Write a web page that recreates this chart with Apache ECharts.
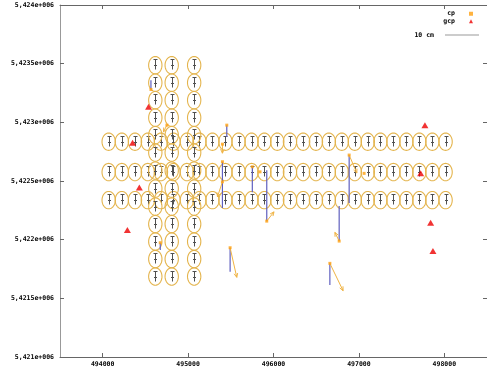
<!DOCTYPE html>
<html><head><meta charset="utf-8">
<script src="https://cdn.jsdelivr.net/npm/echarts@6/dist/echarts.min.js"></script>
<style>html,body{margin:0;padding:0;background:#fff}#c{width:487px;height:374px}</style>
</head><body><div id="c"></div>
<script>
// ---- axis ticks ----
const xTicks = [494000, 495000, 496000, 497000, 498000];
const xTickLabels = ['494000', '495000', '496000', '497000', '498000'];
const yTicks = [5421000, 5421500, 5422000, 5422500, 5423000, 5423500, 5424000];
const yTickLabels = ['5,421e+006', '5,4215e+006', '5,422e+006', '5,4225e+006', '5,423e+006', '5,4235e+006', '5,424e+006'];

// ---- error ellipse centres: three E-W profiles and three N-S profiles ----
const rowX = [494070, 494224, 494378, 494528, 494682, 494829, 494986, 495133, 495285, 495437, 495591, 495743, 495893,
  496044, 496193, 496347, 496497, 496648, 496800, 496952, 497104, 497252, 497404, 497556, 497708, 497860, 498015];
const rowY = [5422835, 5422576, 5422337];
const colX = [494616, 494808, 495071];
const colY = [5423487, 5423338, 5423189, 5423040, 5422891, 5422742, 5422589, 5422435, 5422282, 5422133, 5421984, 5421835, 5421686];

// ---- cp: position, vertical displacement (blue), horizontal displacement (arrow) ----
const cpX  = [494565, 494752, 495453, 495402, 495402, 495402, 495752, 495842, 495921, 496886, 497061, 496769, 494674, 495492, 496660];
const cpY  = [5423280, 5422976, 5422976, 5422814, 5422664, 5422493, 5422621, 5422578, 5422158, 5422721, 5422565, 5421988, 5421974, 5421931, 5421798];
const cpDz = [79, 0, -100, 0, -394, 0, -216, 0, 434, -409, 0, 298, -62, -204, -185];
const cpAx = [0, -40, 0, 0, 0, -58, 0, 0, 85, 90, 0, -50, 0, 78, 155];
const cpAy = [0, -57, 0, -77, 0, -128, 0, 0, 79, -153, 0, 74, 0, -252, -233];

// ---- gcp ----
const gcpX = [494537, 494350, 494429, 494289, 497773, 497723, 497840, 497867];
const gcpY = [5423132, 5422825, 5422445, 5422082, 5422976, 5422565, 5422144, 5421903];

const ELL_RX = 78, ELL_RY = 74;

const ellData = [];
rowY.forEach(y => rowX.forEach(x => ellData.push([x, y])));
colX.forEach(x => colY.forEach(y => ellData.push([x, y])));
const cpData = cpX.map((x, i) => [x, cpY[i], cpDz[i], cpAx[i], cpAy[i]]);
const gcpData = gcpX.map((x, i) => [x, gcpY[i]]);

const FONT = {fontFamily: 'DejaVu Sans Mono', fontSize: 6.5, fontWeight: 'bold', color: '#000'};

function renderEllipse(params, api) {
  const c = api.coord([api.value(0), api.value(1)]);
  const s = api.size([ELL_RX, ELL_RY]);
  const pts = [];
  for (let i = 0; i < 48; i++) {
    const t = i / 48 * 2 * Math.PI;
    pts.push([c[0] + s[0] * Math.cos(t), c[1] + s[1] * Math.sin(t)]);
  }
  const x = Math.round(c[0]) + 0.5, y = Math.round(c[1]) + 0.5;
  const st = {stroke: '#505050', lineWidth: 1};
  return {type: 'group', children: [
    {type: 'polygon', shape: {points: pts}, style: {fill: 'none', stroke: '#e4b44c', lineWidth: 1.1}},
    {type: 'line', shape: {x1: x, y1: y - 6, x2: x, y2: y + 4}, style: st},
    {type: 'line', shape: {x1: x - 2, y1: y - 6, x2: x + 2, y2: y - 6}, style: st},
    {type: 'line', shape: {x1: x - 1.5, y1: y, x2: x + 1.5, y2: y}, style: st}
  ]};
}

function renderCp(params, api) {
  const x = api.value(0), y = api.value(1), dz = api.value(2), ax = api.value(3), ay = api.value(4);
  const p = api.coord([x, y]);
  const ch = [];
  if (dz) {
    const q = api.coord([x, y + dz]);
    ch.push({type: 'line', shape: {x1: p[0], y1: p[1], x2: q[0], y2: q[1]}, style: {stroke: '#5f5fbf', lineWidth: 1.2}});
  }
  if (ax || ay) {
    const a = api.coord([x + ax, y + ay]);
    const dx = a[0] - p[0], dy = a[1] - p[1];
    const L = Math.hypot(dx, dy), ux = dx / L, uy = dy / L;
    const h = 4, w = 1.8;
    ch.push({type: 'line', shape: {x1: p[0], y1: p[1], x2: a[0], y2: a[1]}, style: {stroke: '#f0b445', lineWidth: 1}});
    ch.push({type: 'polyline', shape: {points: [
      [a[0] - ux * h - uy * w, a[1] - uy * h + ux * w], [a[0], a[1]], [a[0] - ux * h + uy * w, a[1] - uy * h - ux * w]
    ]}, style: {stroke: '#f0b445', lineWidth: 1, fill: 'none'}});
  }
  return {type: 'group', children: ch};
}

const chart = echarts.init(document.getElementById('c'), null, {renderer: 'canvas'});
const xBase = {type: 'value', min: 493500, max: 498500, splitLine: {show: false}};
const yBase = {type: 'value', min: 5421000, max: 5424000, splitLine: {show: false}};
chart.setOption({
  animation: false,
  backgroundColor: '#fff',
  grid: {left: 60, right: 0, top: 5, bottom: 17, containLabel: false},
  xAxis: [
    Object.assign({}, xBase, {position: 'bottom',
      axisLine: {show: true, lineStyle: {color: '#666', width: 1}},
      axisTick: {show: true, inside: true, length: 4, customValues: xTicks, lineStyle: {color: '#666'}},
      axisLabel: Object.assign({show: true, margin: 4, customValues: xTicks,
        formatter: v => xTickLabels[xTicks.indexOf(v)]}, FONT)}),
    Object.assign({}, xBase, {position: 'top',
      axisLine: {show: true, lineStyle: {color: '#666', width: 1}},
      axisTick: {show: true, inside: true, length: 4, customValues: xTicks, lineStyle: {color: '#666'}},
      axisLabel: {show: false}})
  ],
  yAxis: [
    Object.assign({}, yBase, {position: 'left',
      axisLine: {show: true, lineStyle: {color: '#999', width: 1}},
      axisTick: {show: true, inside: true, length: 4, customValues: yTicks, lineStyle: {color: '#666'}},
      axisLabel: Object.assign({show: true, margin: 6, customValues: yTicks,
        formatter: v => yTickLabels[yTicks.indexOf(v)]}, FONT)}),
    Object.assign({}, yBase, {position: 'right',
      axisLine: {show: true, lineStyle: {color: '#666', width: 1}},
      axisTick: {show: true, inside: true, length: 4, customValues: yTicks, lineStyle: {color: '#666'}},
      axisLabel: {show: false}})
  ],
  legend: [
    {data: [{name: 'cp', icon: 'rect'}, {name: 'gcp', icon: 'triangle'}], orient: 'vertical', align: 'right',
      right: 14, top: 10, itemWidth: 4, itemHeight: 4, itemGap: 0, padding: 0,
      textStyle: Object.assign({}, FONT, {lineHeight: 7.5, padding: [0, 9, 0, 0]})},
    {data: [{name: '10 cm', icon: 'rect'}], orient: 'vertical', align: 'right',
      right: 8, top: 31, itemWidth: 34, itemHeight: 1, padding: 0,
      textStyle: Object.assign({}, FONT, {lineHeight: 8, padding: [0, 6, 0, 0]})}
  ],
  series: [
    {type: 'custom', name: 'ellipses', renderItem: renderEllipse, data: ellData, encode: {x: 0, y: 1}, silent: true, clip: false, z: 2},
    {type: 'custom', name: 'disp', renderItem: renderCp, data: cpData, encode: {x: 0, y: 1}, silent: true, z: 3},
    {type: 'scatter', name: 'cp', data: cpData.map(d => [d[0], d[1]]), symbol: 'rect', symbolSize: 3, itemStyle: {color: '#ffa010'}, z: 4},
    {type: 'scatter', name: 'gcp', data: gcpData, symbol: 'triangle', symbolSize: [7, 6], itemStyle: {color: '#ee0000'}, z: 4},
    {type: 'line', name: '10 cm', data: [], itemStyle: {color: '#999'}, lineStyle: {color: '#999'}}
  ]
});
</script></body></html>
